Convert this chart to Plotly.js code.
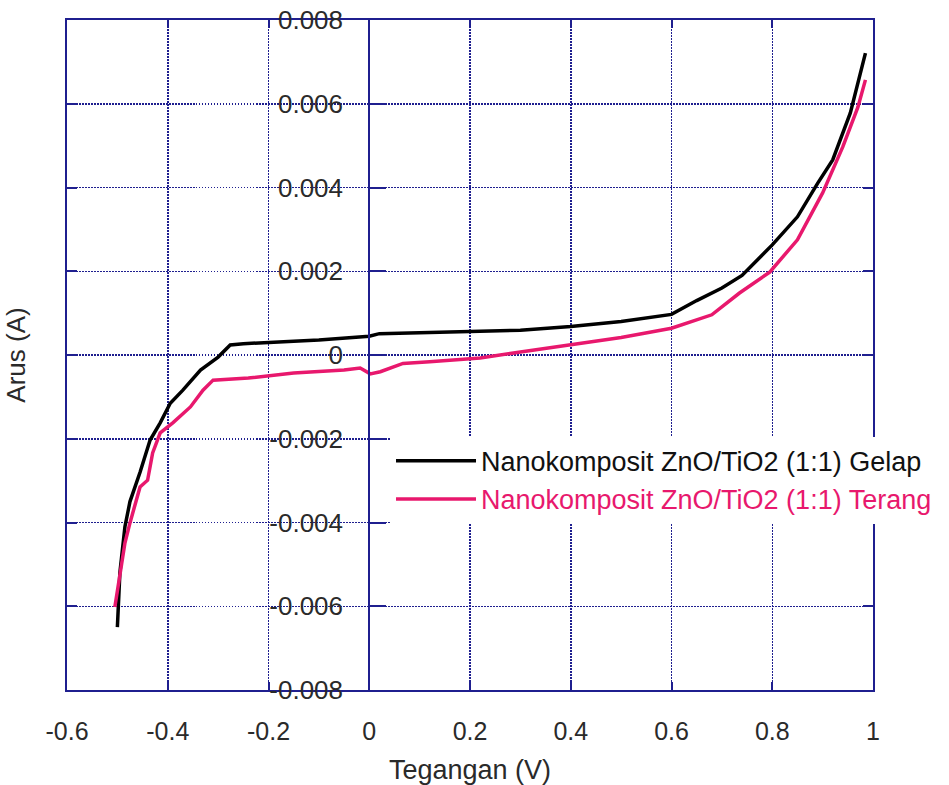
<!DOCTYPE html>
<html>
<head>
<meta charset="utf-8">
<script src="https://cdn.plot.ly/plotly-3.0.1.min.js"></script>
<style>html,body{margin:0;padding:0;background:#fff;}#chart{width:949px;height:785px;}</style>
</head>
<body>
<div id="chart"></div>
<script>
// Tegangan (V) and Arus (A)
const gelapV = [-0.50, -0.495, -0.485, -0.475, -0.455, -0.435, -0.415, -0.395, -0.37, -0.335, -0.30, -0.276, -0.25, -0.20, -0.15, -0.10, -0.05, 0.0, 0.02, 0.05, 0.10, 0.20, 0.30, 0.40, 0.50, 0.60, 0.65, 0.70, 0.74, 0.80, 0.85, 0.89, 0.92, 0.955, 0.985];
const gelapI = [-0.0065, -0.0052, -0.0041, -0.0035, -0.0028, -0.00203, -0.00162, -0.00115, -0.00084, -0.00036, -0.00005, 0.00024, 0.00027, 0.00029, 0.00033, 0.00036, 0.00040, 0.00045, 0.00051, 0.00052, 0.00053, 0.00055, 0.00059, 0.00068, 0.00080, 0.00097, 0.0013, 0.0016, 0.0019, 0.00263, 0.0033, 0.0041, 0.00466, 0.00578, 0.00721];

const terangV = [-0.505, -0.495, -0.485, -0.475, -0.455, -0.44, -0.43, -0.415, -0.39, -0.355, -0.33, -0.31, -0.24, -0.15, -0.10, -0.05, -0.018, 0.002, 0.022, 0.067, 0.12, 0.175, 0.22, 0.30, 0.40, 0.50, 0.60, 0.68, 0.735, 0.795, 0.85, 0.90, 0.94, 0.97, 0.985];
const terangI = [-0.00602, -0.0053, -0.00449, -0.00401, -0.00315, -0.00299, -0.00234, -0.00186, -0.00162, -0.00124, -0.00084, -0.00060, -0.00055, -0.00043, -0.00040, -0.00036, -0.00031, -0.00045, -0.00040, -0.00020, -0.00016, -0.00010, -0.00007, 0.00007, 0.00024, 0.00042, 0.00064, 0.00096, 0.00148, 0.00198, 0.00275, 0.00387, 0.00497, 0.00592, 0.00657];

const xTickVals = [-0.6, -0.4, -0.2, 0, 0.2, 0.4, 0.6, 0.8, 1];
const xTickText = ['-0.6', '-0.4', '-0.2', '0', '0.2', '0.4', '0.6', '0.8', '1'];
const yTickVals = [-0.008, -0.006, -0.004, -0.002, 0, 0.002, 0.004, 0.006, 0.008];
const yTickText = ['-0.008', '-0.006', '-0.004', '-0.002', '0', '0.002', '0.004', '0.006', '0.008'];

const seriesNames = ['Nanokomposit ZnO/TiO2 (1:1) Gelap', 'Nanokomposit ZnO/TiO2 (1:1) Terang'];
const xTitle = 'Tegangan (V)';
const yTitle = 'Arus (A)';

const navy = '#1f1f8f';
const pink = '#e8186d';
const font = 'Liberation Sans, Arial, sans-serif';
const textColor = '#2a2a2a';

const traces = [
  {x: gelapV, y: gelapI, type: 'scatter', mode: 'lines', name: seriesNames[0],
   line: {color: '#000000', width: 3.5}, xaxis: 'x', yaxis: 'y'},
  {x: terangV, y: terangI, type: 'scatter', mode: 'lines',
   name: '<span style="color:' + pink + '">' + seriesNames[1] + '</span>',
   line: {color: pink, width: 3.5}, xaxis: 'x', yaxis: 'y2'}
];

const layout = {
  width: 949, height: 785,
  margin: {l: 67, r: 76, t: 20, b: 95, pad: 0, autoexpand: false},
  paper_bgcolor: '#ffffff', plot_bgcolor: '#ffffff',
  font: {family: font, size: 25, color: textColor},
  showlegend: true,
  legend: {x: 0.402, xanchor: 'left', y: 0.378, yanchor: 'top', bgcolor: '#ffffff',
           borderwidth: 0, font: {family: font, size: 27, color: '#111111'},
           itemwidth: 80, tracegroupgap: 0},
  xaxis: {
    range: [-0.6, 1], tickvals: xTickVals, ticktext: xTickText,
    showgrid: true, gridcolor: navy, griddash: '1.5px,1.5px', gridwidth: 1.5,
    showline: true, linecolor: navy, linewidth: 2, mirror: 'ticks',
    ticks: 'inside', ticklen: 8, tickcolor: navy, tickwidth: 2,
    zeroline: false, automargin: false,
    tickfont: {family: font, size: 25, color: textColor},
    ticklabelstandoff: 18,
    title: {text: xTitle, font: {family: font, size: 27, color: textColor}, standoff: 16}
  },
  yaxis: {
    range: [-0.008, 0.008], tickvals: yTickVals,
    showgrid: true, gridcolor: navy, griddash: '1.5px,1.5px', gridwidth: 1.5,
    showline: true, linecolor: navy, linewidth: 2, mirror: 'ticks',
    ticks: 'inside', ticklen: 10, tickcolor: navy, tickwidth: 2,
    showticklabels: false, zeroline: false, automargin: false,
    title: {text: yTitle, font: {family: font, size: 26, color: textColor}, standoff: 32}
  },
  yaxis2: {
    overlaying: 'y', anchor: 'free', position: 0.375, side: 'left',
    range: [-0.008, 0.008], tickvals: yTickVals, ticktext: yTickText,
    showgrid: false, zeroline: false, automargin: false,
    showline: true, linecolor: navy, linewidth: 2,
    ticks: 'inside', ticklen: 16, tickcolor: navy, tickwidth: 2,
    tickfont: {family: font, size: 26, color: textColor},
    ticklabelstandoff: 20
  }
};

Plotly.newPlot('chart', traces, layout, {displayModeBar: false, staticPlot: true});
</script>
</body>
</html>
